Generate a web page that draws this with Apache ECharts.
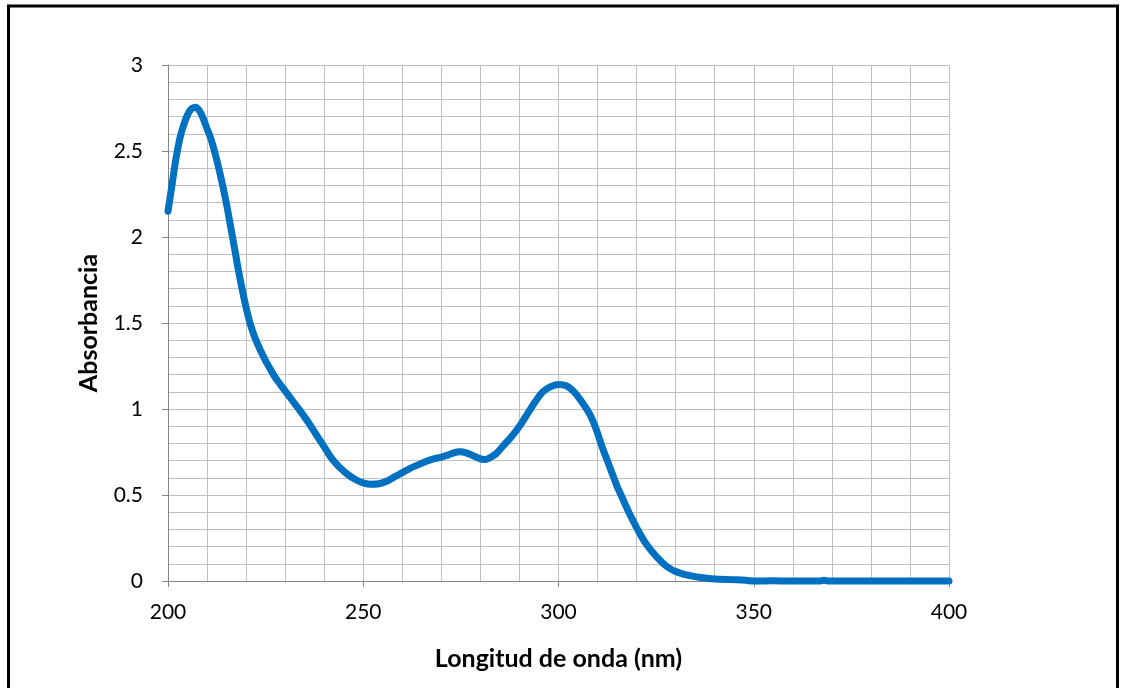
<!DOCTYPE html>
<html>
<head>
<meta charset="utf-8">
<script src="https://cdn.jsdelivr.net/npm/echarts@6/dist/echarts.min.js"></script>
<style>
html,body{margin:0;padding:0;background:#fff;}
#c{width:1122px;height:688px;}
</style>
</head>
<body>
<div id="c"></div>
<script>
const wavelengths = [200,201,202,203,204,205,206,207,208,209,210,211,212,213,214,215,216,217,218,219,220,221,222,223,224,225,226,227,228,229,230,232,234,236,238,240,242,244,246,248,250,252,254,256,258,260,262,264,266,268,270,272,274,275,276,278,280,281,282,284,286,288,290,292,294,296,298,300,302,304,306,308,309,310,311,312,313,314,315,316,317,318,319,320,322,324,326,328,330,332,334,336,338,340,344,348,349,350,355,360,367,368,369,380,390,400];
const absorbance = [2.15,2.30,2.45,2.57,2.65,2.71,2.745,2.755,2.735,2.69,2.63,2.57,2.49,2.40,2.30,2.19,2.065,1.94,1.81,1.695,1.59,1.50,1.43,1.375,1.325,1.28,1.24,1.20,1.165,1.135,1.105,1.045,0.985,0.92,0.85,0.78,0.71,0.66,0.62,0.59,0.57,0.562,0.565,0.58,0.605,0.63,0.655,0.675,0.695,0.71,0.72,0.735,0.75,0.752,0.748,0.73,0.71,0.707,0.712,0.74,0.79,0.84,0.90,0.97,1.04,1.10,1.13,1.143,1.135,1.10,1.04,0.97,0.92,0.86,0.79,0.73,0.67,0.61,0.55,0.50,0.45,0.40,0.355,0.31,0.23,0.17,0.12,0.08,0.055,0.04,0.03,0.022,0.016,0.012,0.008,0.005,0.001,0,0.001,0,0,0.004,0,0,0,0];
const xAxisTitle = 'Longitud de onda (nm)';
const yAxisTitle = 'Absorbancia';

const seriesData = wavelengths.map((w, i) => [w, absorbance[i]]);
const FONT = 'Lato, "Open Sans", sans-serif';

const chart = echarts.init(document.getElementById('c'), null, {renderer: 'canvas'});
chart.setOption({
  animation: false,
  backgroundColor: '#ffffff',
  grid: {left: 168, right: 173, top: 65, bottom: 107, containLabel: false},
  xAxis: {
    type: 'value', min: 200, max: 400, interval: 50,
    name: xAxisTitle, nameLocation: 'middle', nameGap: 65,
    nameTextStyle: {fontFamily: FONT, fontSize: 25, fontWeight: 'bold', color: '#000'},
    axisLine: {show: true, onZero: false, lineStyle: {color: '#868686', width: 1}},
    axisTick: {show: true, length: 6, lineStyle: {color: '#868686'}},
    axisLabel: {margin: 21, fontFamily: FONT, fontSize: 21, color: '#000'},
    splitLine: {show: true, lineStyle: {color: '#BFBFBF', width: 1}},
    minorTick: {show: false, splitNumber: 5},
    minorSplitLine: {show: true, lineStyle: {color: '#BFBFBF', width: 1}}
  },
  yAxis: {
    type: 'value', min: 0, max: 3, interval: 0.5,
    name: yAxisTitle, nameLocation: 'middle', nameGap: 67, nameRotate: 90,
    nameTextStyle: {fontFamily: FONT, fontSize: 25, fontWeight: 'bold', color: '#000'},
    axisLine: {show: true, lineStyle: {color: '#868686', width: 1}},
    axisTick: {show: true, length: 6, lineStyle: {color: '#868686'}},
    axisLabel: {margin: 25, fontFamily: FONT, fontSize: 21, color: '#000'},
    splitLine: {show: true, lineStyle: {color: '#BFBFBF', width: 1}},
    minorTick: {show: false, splitNumber: 5},
    minorSplitLine: {show: true, lineStyle: {color: '#BFBFBF', width: 1}}
  },
  series: [{
    type: 'line',
    data: seriesData,
    showSymbol: false,
    smooth: 0.4,
    clip: false,
    lineStyle: {color: '#0070C0', width: 7, cap: 'round', join: 'round'},
    itemStyle: {color: '#0070C0'}
  }],
  graphic: [{
    type: 'rect',
    shape: {x: 8.5, y: 6, width: 1109, height: 700},
    style: {fill: 'none', stroke: '#000', lineWidth: 3},
    silent: true, z: 100
  }]
});
</script>
</body>
</html>
